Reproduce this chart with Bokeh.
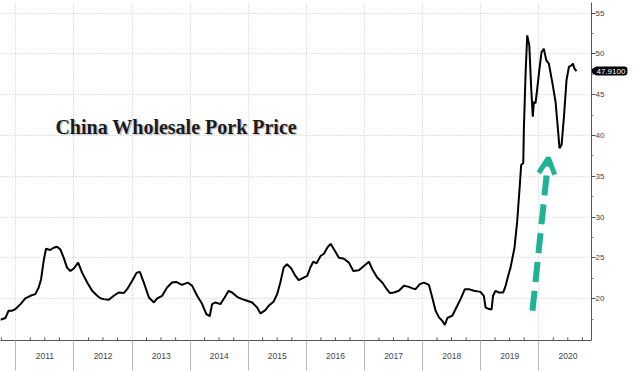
import math
import pandas as pd
from bokeh.plotting import figure
from bokeh.layouts import row
from bokeh.models import (Range1d, FixedTicker, Label, Arrow, OpenHead, DatetimeTickFormatter, Grid)
from bokeh.embed import file_html
from bokeh.resources import INLINE

# ---- data ----
dates = [
    "2010-09-25", "2010-10-27", "2010-11-16", "2010-12-08", "2010-12-29",
    "2011-01-30", "2011-03-01", "2011-04-02", "2011-05-03", "2011-05-24", "2011-06-08", "2011-06-24", "2011-07-09",
    "2011-08-05", "2011-08-26", "2011-09-16", "2011-10-07", "2011-10-28", "2011-11-18", "2011-12-09", "2011-12-30",
    "2012-01-27", "2012-02-21", "2012-03-24", "2012-04-24", "2012-05-26", "2012-06-15", "2012-07-06", "2012-08-07",
    "2012-09-07", "2012-10-08", "2012-11-09", "2012-11-30",
    "2013-01-01", "2013-01-29", "2013-02-18", "2013-03-15", "2013-04-16", "2013-05-17", "2013-06-07", "2013-07-08",
    "2013-08-08", "2013-09-08", "2013-10-05", "2013-11-09", "2013-12-16",
    "2014-01-13", "2014-02-13", "2014-03-16", "2014-04-12", "2014-05-03", "2014-05-18", "2014-06-08", "2014-07-09",
    "2014-08-03", "2014-08-30", "2014-09-21", "2014-10-22", "2014-11-23", "2014-12-24",
    "2015-01-25", "2015-02-25", "2015-03-18", "2015-04-18", "2015-05-09", "2015-06-09", "2015-07-01", "2015-07-21",
    "2015-08-11", "2015-09-01", "2015-09-27", "2015-10-24", "2015-11-13", "2015-12-15",
    "2016-01-06", "2016-01-27", "2016-02-13", "2016-03-05", "2016-03-30", "2016-04-20", "2016-05-11", "2016-06-01",
    "2016-06-22", "2016-07-23", "2016-08-24", "2016-09-24", "2016-10-22", "2016-11-26", "2016-12-27",
    "2017-01-28", "2017-02-18", "2017-03-21", "2017-04-22", "2017-05-13", "2017-06-09", "2017-07-04", "2017-08-04",
    "2017-09-05", "2017-10-06", "2017-10-29", "2017-11-17", "2017-12-14",
    "2018-01-09", "2018-02-09", "2018-03-02", "2018-03-23", "2018-04-13", "2018-05-04", "2018-05-20", "2018-06-05",
    "2018-07-06", "2018-08-06", "2018-08-27", "2018-09-23", "2018-10-18", "2018-11-19", "2018-12-30",
    "2019-01-20", "2019-01-31", "2019-02-21", "2019-03-10", "2019-03-19", "2019-04-04", "2019-04-25", "2019-05-22",
    "2019-06-06", "2019-06-25", "2019-07-07", "2019-08-01", "2019-08-18", "2019-09-02", "2019-09-12", "2019-09-25",
    "2019-09-29", "2019-10-10", "2019-10-20", "2019-11-02", "2019-11-14", "2019-11-24", "2019-12-01", "2019-12-11",
    "2019-12-22",
    "2020-01-05", "2020-01-18", "2020-02-01", "2020-02-17", "2020-03-04", "2020-03-25", "2020-04-15", "2020-04-26",
    "2020-05-10", "2020-05-23", "2020-06-06", "2020-06-23", "2020-07-08", "2020-07-25", "2020-08-02", "2020-08-12",
    "2020-08-25",
]

price = [
    17.44, 17.65, 18.54, 18.54, 18.74,
    19.35, 20.04, 20.37, 20.57, 21.38, 22.40, 24.63, 26.13, 25.98, 26.26, 26.38, 26.06, 25.04, 23.82, 23.41, 23.70,
    24.43, 23.21, 21.99, 20.98, 20.37, 20.06, 19.96, 19.88, 20.37, 20.77, 20.70, 21.18,
    22.20, 23.21, 23.29, 21.99, 20.16, 19.55, 20.04, 20.37, 21.38, 21.99, 22.07, 21.71, 21.99,
    21.59, 20.37, 19.39, 18.13, 17.87, 19.35, 19.55, 19.35, 20.09, 20.98, 20.77, 20.24, 19.96, 19.76,
    19.55, 18.94, 18.21, 18.62, 19.15, 19.67, 20.57, 21.99, 23.82, 24.23, 23.74, 22.80, 22.28, 22.60,
    22.80, 23.90, 24.55, 24.35, 25.24, 25.52, 26.26, 26.74, 26.06, 25.04, 24.91, 24.43, 23.41, 23.50, 24.02,
    24.55, 23.62, 22.60, 21.99, 21.38, 20.70, 20.77, 20.98, 21.59, 21.46, 21.28, 21.18, 21.79,
    21.99, 21.71, 20.16, 18.54, 17.72, 17.32, 16.79, 17.65, 17.93, 19.15, 19.96, 21.18, 21.18, 20.98, 20.85,
    20.37, 18.94, 18.74, 18.70, 20.37, 20.98, 20.77, 20.77, 21.59, 23.01, 23.82, 26.26, 29.51, 33.57, 36.43, 36.62,
    40.89, 47.80, 52.28, 51.06, 45.77, 42.32, 44.15, 43.94, 45.77,
    48.21, 50.24, 50.65, 49.23, 48.82, 46.59, 44.15, 41.71, 38.45, 38.87, 42.11, 46.79, 48.41, 48.62, 48.82, 48.21,
    47.91,
]

years = list(range(2011, 2021))
y_ticks = [20, 25, 30, 35, 40, 45, 50, 55]
y_minor = [17.5, 22.5, 27.5, 32.5, 37.5, 42.5, 47.5, 52.5]
title_text = "China Wholesale Pork Price"

TEAL = "#1db394"
AXIS = "#555555"
GRID = "#c4c4c4"


def ms(ts):
    return pd.Timestamp(ts).value // 10**6


t = pd.to_datetime(dates)
X0, X1 = pd.Timestamp("2010-09-26"), pd.Timestamp("2020-11-27")
yr = Range1d(14.89, 56.31)

# ---------------- main chart (frame spans x = 0 .. 591) ----------------
p = figure(width=591, height=372, x_axis_type="datetime", y_axis_location=None,
           output_backend="svg", toolbar_location=None,
           x_range=Range1d(X0, X1), y_range=yr,
           min_border_left=0, min_border_right=0, min_border_top=2, min_border_bottom=32)
p.outline_line_color = None
p.background_fill_color = "white"
p.border_fill_color = "white"

year_starts = [ms(f"{y}-01-01") for y in years]
mid_years = [ms(f"{y}-07-02") for y in years]
xa = p.xaxis[0]
xa.ticker = FixedTicker(ticks=mid_years, minor_ticks=year_starts)
fmt = "%Y"
xa.formatter = DatetimeTickFormatter(years=fmt, months=fmt, days=fmt, hours=fmt, hourmin=fmt,
                                     minutes=fmt, minsec=fmt, seconds=fmt, milliseconds=fmt,
                                     microseconds=fmt)
xa.major_tick_out = 0
xa.major_tick_in = 0
xa.minor_tick_out = 30
xa.minor_tick_in = 0
xa.minor_tick_line_color = "#b8b8b8"
xa.axis_line_color = AXIS
xa.major_label_standoff = -18
xa.major_label_text_font = "Liberation Sans"
xa.major_label_text_font_size = "8.5px"
xa.major_label_text_color = "#444444"

p.xgrid.ticker = FixedTicker(ticks=year_starts)
p.xgrid.grid_line_color = GRID
p.xgrid.grid_line_dash = "1 2"
if len(p.ygrid) == 0:
    p.add_layout(Grid(dimension=1))
for g in p.ygrid:
    g.ticker = FixedTicker(ticks=y_ticks)
    g.grid_line_color = GRID
    g.grid_line_dash = "1 2"

q = [pd.Timestamp(f"{y}-{m:02d}-01") for y in range(2010, 2021) for m in (4, 7, 10)]
q = [d for d in q if X0 <= d <= X1]
p.segment(x0=q, y0=[14.89] * len(q), x1=q, y1=[15.27] * len(q), line_color=AXIS, line_width=1)

p.line(t, price, line_color="black", line_width=2)

p.add_layout(Label(x=ms("2011-09-06"), y=41.08, text=title_text, x_offset=1.5, y_offset=-1.5,
                   text_font="Liberation Serif", text_font_style="bold", text_font_size="20px",
                   text_color="#c8c8c8", text_baseline="alphabetic"))
p.add_layout(Label(x=ms("2011-09-06"), y=41.08, text=title_text,
                   text_font="Liberation Serif", text_font_style="bold", text_font_size="20px",
                   text_color="#1a1a1a", text_baseline="alphabetic"))

p.add_layout(Arrow(end=OpenHead(size=16, line_width=5, line_color=TEAL),
                   x_start=ms("2019-11-22"), y_start=18.53, x_end=ms("2020-03-01"), y_end=37.28,
                   line_color=TEAL, line_width=6, line_dash="20 9"))

# ---------------- value axis strip (frame spans x = 591 .. 634) ----------------
s = figure(width=43, height=372, y_axis_location="left", x_axis_location=None,
           output_backend="svg", toolbar_location=None,
           x_range=Range1d(0, 43), y_range=yr,
           min_border_left=0, min_border_right=0, min_border_top=2, min_border_bottom=32)
s.outline_line_color = None
s.background_fill_color = "white"
s.border_fill_color = "white"
s.xgrid.visible = False
s.ygrid.visible = False

ya = s.yaxis[0]
ya.ticker = FixedTicker(ticks=y_ticks, minor_ticks=y_minor)
ya.major_tick_out = 0
ya.major_tick_in = 4
ya.minor_tick_out = 0
ya.minor_tick_in = 2
ya.axis_line_color = AXIS
ya.major_tick_line_color = AXIS
ya.minor_tick_line_color = "#888888"
ya.major_label_standoff = -13
ya.major_label_text_font = "Liberation Sans"
ya.major_label_text_font_size = "8px"
ya.major_label_text_color = "#444444"

# last value tag
s.scatter(x=[2.5], y=[price[-1]], marker="triangle", angle=math.pi / 2, size=8,
          fill_color="black", line_color="black")
s.add_layout(Label(x=3, y=price[-1], text=f"{price[-1]:.4f}",
                   text_font="Liberation Sans", text_font_size="8px", text_color="white",
                   text_baseline="middle", text_align="left",
                   background_fill_color="black", padding=2, border_radius=3))

layout = row(p, s, spacing=0)
open("out.html", "w").write(file_html(layout, INLINE))
